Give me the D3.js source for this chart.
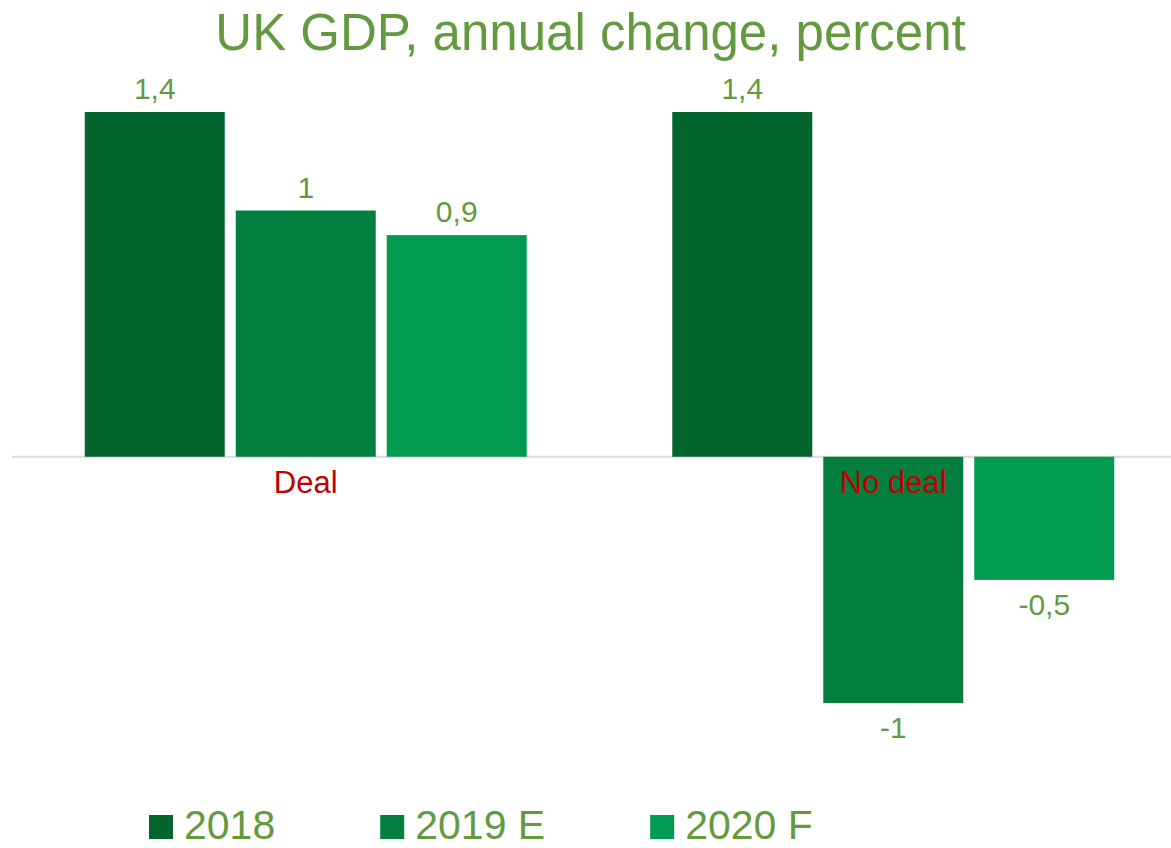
<!DOCTYPE html>
<html>
<head>
<meta charset="utf-8">
<script src="https://cdn.jsdelivr.net/npm/d3@7"></script>
<style>
  body { margin: 0; background: #fff; }
  text { font-family: "Liberation Sans", Arial, sans-serif; }
</style>
</head>
<body>
<script>
// Chart data
var categories = ["Deal", "No deal"];
var seriesNames = ["2018", "2019 E", "2020 F"];
var dealValues = [1.4, 1, 0.9];
var noDealValues = [1.4, -1, -0.5];
var valueLabels = [["1,4", "1", "0,9"], ["1,4", "-1", "-0,5"]];
var colors = ["#04652f", "#027f3f", "#009a50"];

var svgWidth = 1171;
var svgHeight = 848;
var textGreen = "#639a3f";

var svg = d3.select("body")
  .append("svg")
  .attr("width", svgWidth)
  .attr("height", svgHeight);

// Scales
var x0 = d3.scaleBand()
  .domain(categories)
  .range([12, 1187])
  .paddingInner(0.2477)
  .paddingOuter(0.1238);

var x1 = d3.scaleBand()
  .domain(seriesNames)
  .range([0, x0.bandwidth()])
  .paddingInner(0.0728)
  .paddingOuter(0);

var yScale = d3.scaleLinear()
  .domain([-1, 1.4])
  .range([703, 112]);

var rows = [dealValues, noDealValues].map(function(vals, i) {
  return {
    cat: categories[i],
    bars: vals.map(function(v, j) {
      return { name: seriesNames[j], value: v, label: valueLabels[i][j], color: colors[j] };
    })
  };
});

// Title
svg.append("text")
  .attr("x", 590.5)
  .attr("y", 50)
  .attr("text-anchor", "middle")
  .attr("fill", textGreen)
  .style("font-size", "51px")
  .text("UK GDP, annual change, percent");

// Zero line
svg.append("line")
  .attr("x1", 12)
  .attr("x2", svgWidth)
  .attr("y1", yScale(0))
  .attr("y2", yScale(0))
  .attr("stroke", "#d9d9d9")
  .attr("stroke-width", 2);

var groups = svg.selectAll("g.cat")
  .data(rows)
  .enter()
  .append("g")
  .attr("class", "cat")
  .attr("transform", function(d) { return "translate(" + x0(d.cat) + ",0)"; });

groups.selectAll("rect")
  .data(function(d) { return d.bars; })
  .enter()
  .append("rect")
  .attr("x", function(d) { return x1(d.name); })
  .attr("width", x1.bandwidth())
  .attr("y", function(d) { return yScale(Math.max(0, d.value)); })
  .attr("height", function(d) { return Math.abs(yScale(d.value) - yScale(0)); })
  .attr("fill", function(d) { return d.color; });

// Value labels
groups.selectAll("text.val")
  .data(function(d) { return d.bars; })
  .enter()
  .append("text")
  .attr("class", "val")
  .attr("x", function(d) { return x1(d.name) + x1.bandwidth() / 2; })
  .attr("y", function(d) {
    return d.value >= 0 ? yScale(d.value) - 13 : yScale(d.value) + 35;
  })
  .attr("text-anchor", "middle")
  .attr("fill", textGreen)
  .style("font-size", "30px")
  .text(function(d) { return d.label; });

// Category labels
groups.append("text")
  .attr("x", x0.bandwidth() / 2)
  .attr("y", yScale(0) + 36)
  .attr("text-anchor", "middle")
  .attr("fill", "#c00000")
  .style("font-size", "31px")
  .text(function(d) { return d.cat; });

// Legend
var legend = svg.append("g");
var lx = 149;
seriesNames.forEach(function(name, i) {
  legend.append("rect")
    .attr("x", lx)
    .attr("y", 815)
    .attr("width", 24)
    .attr("height", 24)
    .attr("fill", colors[i]);
  var t = legend.append("text")
    .attr("x", lx + 35)
    .attr("y", 839)
    .attr("fill", textGreen)
    .style("font-size", "41px")
    .text(name);
  lx += 35 + t.node().getComputedTextLength() + 105;
});
</script>
</body>
</html>
